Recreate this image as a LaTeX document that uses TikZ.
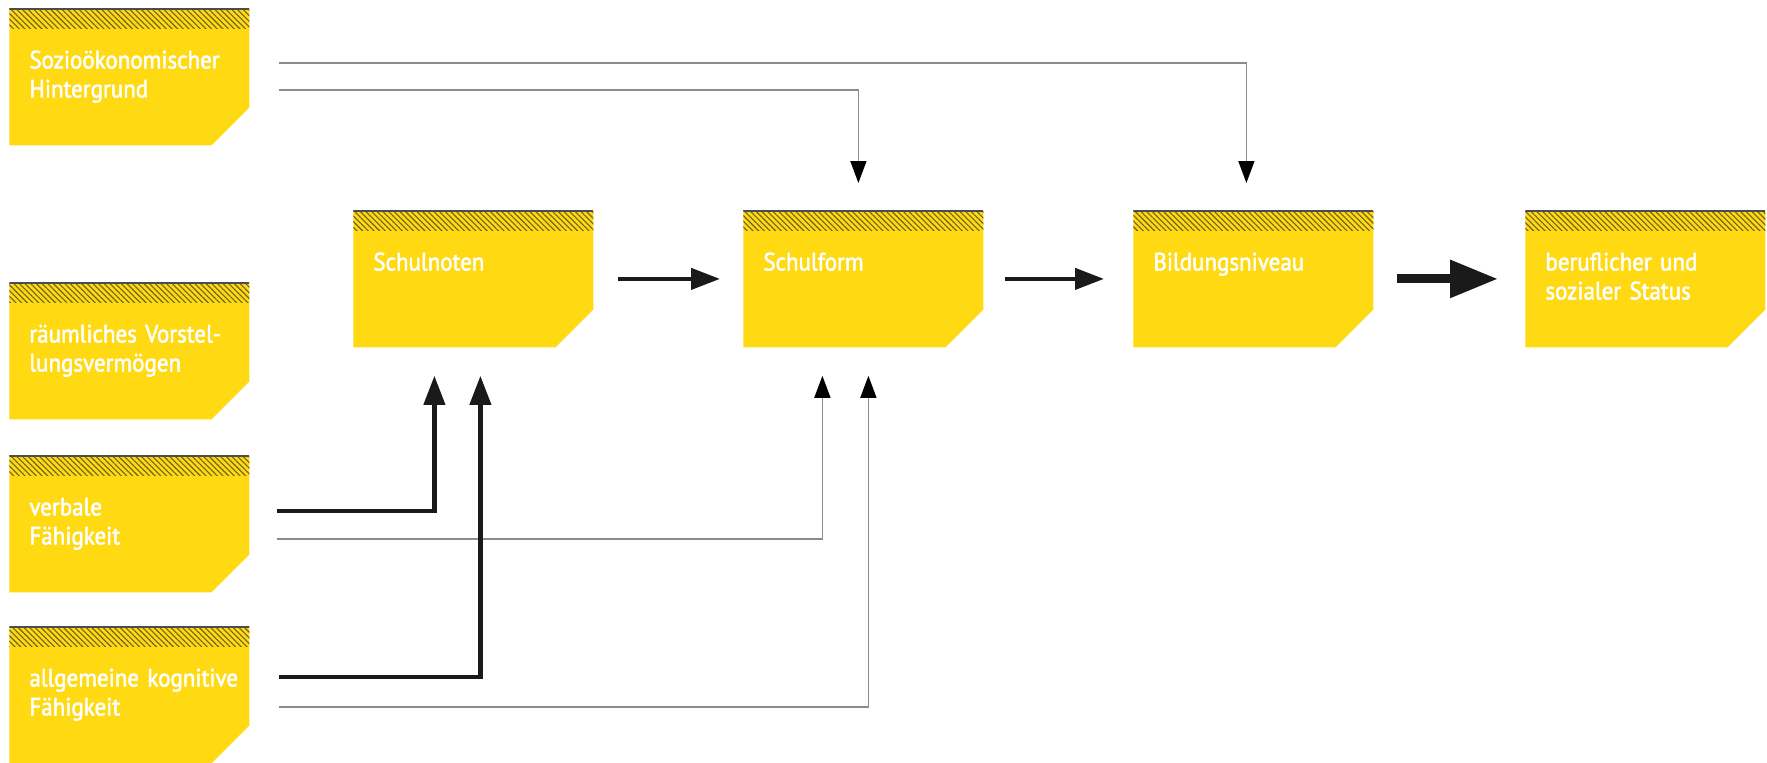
\documentclass[tikz,border=0pt]{standalone}
\usepackage{fontspec}
\usepackage{tikz}
\usetikzlibrary{arrows.meta,patterns.meta}
\newfontfamily\boxfont[FakeStretch=0.92,FakeBold=2]{PT Sans}
\newcommand\factorfont{\boxfont\fontsize{12.5}{14.5}\selectfont\hyphenpenalty=10000\relax}
\definecolor{factoryellow}{HTML}{FFD912}
\definecolor{hatchcolor}{HTML}{6E6220}
\definecolor{toplinecolor}{HTML}{4D4D4D}
\definecolor{linegray}{HTML}{8C8C8C}
\definecolor{arrowblack}{HTML}{1A1A1A}
\tikzstyle{factor}=[rectangle,anchor=north west,inner xsep=10pt,inner ysep=0pt,
  text width=100pt,text height=30pt,text depth=38.5pt,align=left,text=white,
  font=\factorfont,
  path picture={
    \fill[factoryellow] (path picture bounding box.north west) -- (path picture bounding box.north east)
      -- ([yshift=19pt]path picture bounding box.south east) -- ([xshift=-19pt]path picture bounding box.south east)
      -- (path picture bounding box.south west) -- cycle;
    \fill[pattern={Lines[angle=-45,distance=2pt,line width=0.55pt]},pattern color=hatchcolor]
      (path picture bounding box.north west) rectangle ([yshift=-10pt]path picture bounding box.north east);
    \draw[toplinecolor,line width=1.5pt] (path picture bounding box.north west) -- (path picture bounding box.north east);
  }]
\tikzstyle{thinlink}=[draw=linegray,line width=0.75pt,-{Triangle[width=8pt,length=11pt,color=black]}]
\tikzstyle{link}=[draw=arrowblack,line width=2.1pt,-{Triangle[width=10.5pt,length=14.5pt]}]
\tikzstyle{boldlink}=[draw=arrowblack,line width=4.5pt,-{Triangle[width=18pt,length=24pt]}]
\begin{document}
\begin{tikzpicture}[x=0.5pt,y=-0.5pt]
  \useasboundingbox (0,0) rectangle (1767,762);
  \foreach \name/\x/\y/\text in {sozio/9/8/{Sozioökonomischer\\Hintergrund},
                                 raum/9/282/{räumliches~Vorstel-\\lungsvermögen},
                                 verbal/9/455/{verbale\\Fähigkeit},
                                 kognitiv/9/626/{allgemeine~kognitive\\Fähigkeit},
                                 noten/353/210/Schulnoten, form/743/210/Schulform,
                                 bildung/1133/210/Bildungsniveau,
                                 status/1525/210/{beruflicher~und\\sozialer~Status}}
    \node[factor] (\name) at (\x,\y) {\text};
  % thin influences first, thick ones on top
  \draw[thinlink] ([shift={(29,82)}]sozio.north east) -| ([shift={(-5,-27)}]form.north);
  \draw[thinlink] ([shift={(29,55)}]sozio.north east) -| ([shift={(-7,-27)}]bildung.north);
  \draw[thinlink] ([shift={(27,84)}]verbal.north east) -| ([shift={(-41,28)}]form.south);
  \draw[thinlink] ([shift={(29,81)}]kognitiv.north east) -| ([shift={(5,28)}]form.south);
  \draw[link] ([shift={(27,56)}]verbal.north east) -| ([shift={(-39,28)}]noten.south);
  \draw[link] ([shift={(29,51)}]kognitiv.north east) -| ([shift={(7,28)}]noten.south);
  % main chain
  \draw[link,shorten <=12pt,shorten >=11.5pt] (noten.east) -- (form.west);
  \draw[link,shorten <=10.5pt,shorten >=14.5pt] (form.east) -- (bildung.west);
  \draw[boldlink,shorten <=11.5pt,shorten >=13.5pt] (bildung.east) -- (status.west);
\end{tikzpicture}
\end{document}
